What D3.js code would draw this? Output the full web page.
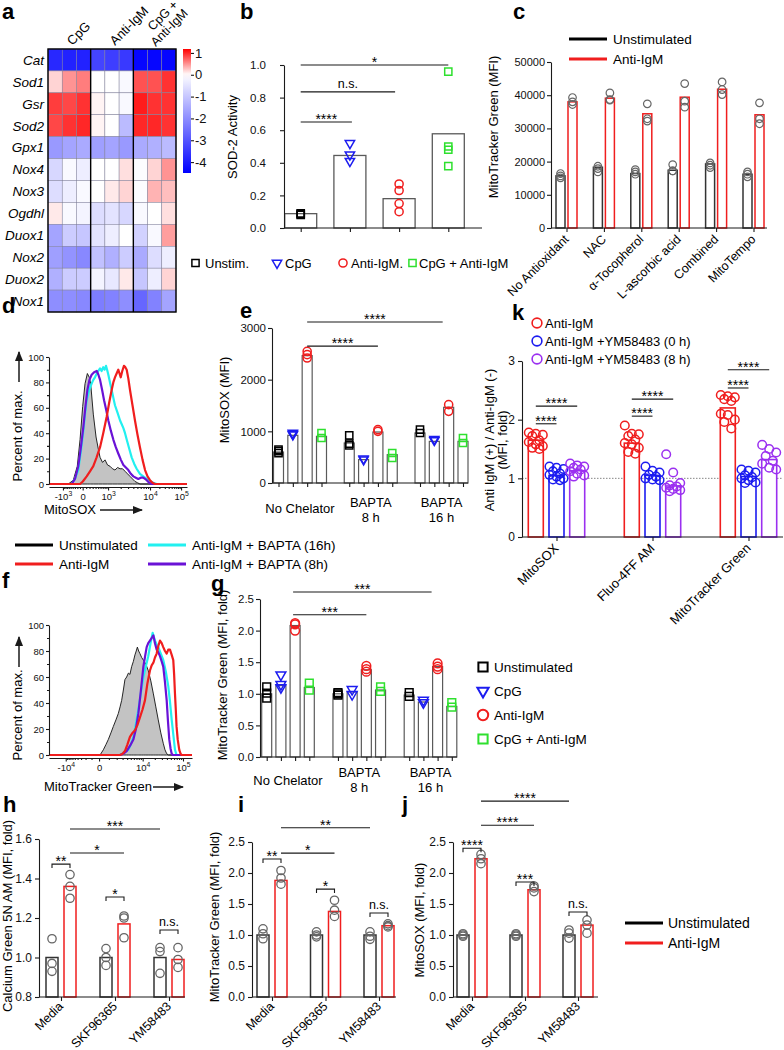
<!DOCTYPE html>
<html><head><meta charset="utf-8">
<script src="https://cdn.jsdelivr.net/npm/d3@7/dist/d3.min.js"></script>
<style>
html,body{margin:0;padding:0;background:#fff;}
svg{display:block;font-family:"Liberation Sans",Arial,Helvetica,sans-serif;}
</style></head><body>
<svg id="fig" width="784" height="1050"></svg>
<script>
// ================= DATA =================
// (a) heat map
const heatGenes = ["Cat","Sod1","Gsr","Sod2","Gpx1","Nox4","Nox3","Ogdhl","Duox1","Nox2","Duox2","Nox1"];
const heatGroups = ["CpG","Anti-IgM","CpG + Anti-IgM"];
const heatValues = [
 [-3.8,-3.9,-3.9,-3.3,-3.4,-3.5,-4.4,-4.4,-4.4],
 [0.2,0.5,0.6,0.0,0.0,-0.1,0.8,0.8,0.95],
 [0.9,0.85,0.95,0.05,0.0,-0.1,1.05,0.95,0.95],
 [0.85,0.95,1.0,0.05,0.0,-1.2,1.0,1.0,0.95],
 [-1.8,-1.6,-1.5,-1.7,-1.6,-1.8,-1.5,-1.4,-1.2],
 [-0.7,-0.1,-0.3,0.0,0.0,0.15,-0.05,0.2,0.5],
 [-0.6,-0.3,-0.1,0.0,0.1,0.2,-0.05,0.35,0.3],
 [0.1,-0.1,-0.2,-0.6,-0.5,-0.7,-0.1,0.0,0.15],
 [-1.6,-0.9,-1.0,-0.5,-0.3,0.0,-0.8,-0.1,0.45],
 [-1.7,-1.9,-2.1,-1.1,-1.4,-0.9,-1.5,-0.6,-0.3],
 [-1.4,-0.9,-0.9,-0.2,-0.4,0.1,-1.0,-0.3,0.2],
 [-2.0,-2.0,-2.1,-2.3,-2.2,-2.0,-2.7,-2.2,-1.6]
];
const heatTicks = [1,0,-1,-2,-3,-4];

// (b) SOD-2 activity
const sodGroups = ["Unstim.","CpG","Anti-IgM.","CpG + Anti-IgM"];
const sodMeans = [0.088,0.445,0.18,0.578];
const sodPoints = [[0.08,0.09,0.085],[0.52,0.45,0.41],[0.27,0.23,0.15,0.10],[0.96,0.50,0.48,0.38]];
const sodTicks = [0,0.2,0.4,0.6,0.8,1.0];

// (c) MitoTracker Green with antioxidants
const antioxCats = ["No Antioxidant","NAC","\u03b1-Tocopherol","L-ascorbic acid","Combined","MitoTempo"];
const mtgUnstimMean = [15700,18300,16400,17400,19300,16200];
const mtgAntiMean = [38000,39100,34400,39400,41800,34100];
const mtgUnstimPts = [[16400,15700,15100],[18600,17900,16900],[17600,16900,16200],[19100,17200,17200],[19600,18900,18200],[16900,16200,15400]];
const mtgAntiPts = [[39300,38000,37200],[40700,38700,38500],[37400,32900,32200],[43500,38200,36400],[44000,41700,40200],[37700,32900,31400]];
const mtgTicks = [0,10000,20000,30000,40000,50000];

// (d) MitoSOX histograms  [channel, % of max]
const dTickChannels = [101,244,428,732,957];
const dTickLabels = ["-10^3","0","10^3","10^4","10^5"];
const dUnstim = [[0,0],[140,0],[176,3],[205,14],[225,35],[244,61],[261,79],[278,87],[292,84],[302,79],[321,55],[341,37],[360,26],[370,21],[388,17],[406,19],[424,15],[442,14],[460,12],[478,11],[497,13],[515,12],[533,12],[551,10],[569,8],[587,6],[605,4],[623,2],[641,1],[659,0],[1000,0]];
const dAnti = [[0,0],[225,0],[245,2],[273,6],[297,10],[321,14],[345,21],[370,29],[393,40],[418,53],[436,64],[454,74],[466,80],[478,84],[490,87],[502,90],[511,87],[520,84],[531,89],[543,93],[553,92],[563,90],[575,83],[587,74],[605,62],[623,50],[641,39],[659,29],[678,19],[696,11],[714,6],[732,3],[750,1],[768,0],[1000,0]];
const dBapta16 = [[0,0],[164,0],[188,4],[212,11],[230,25],[249,42],[261,55],[273,66],[291,74],[309,79],[321,82],[333,84],[351,88],[370,91],[381,89],[393,92],[403,90],[413,93],[421,90],[430,86],[442,80],[454,74],[466,68],[478,62],[497,56],[515,50],[527,47],[539,44],[551,40],[563,35],[581,28],[599,21],[617,16],[635,12],[659,8],[683,6],[708,4],[732,2],[756,1],[780,0],[1000,0]];
const dBapta8 = [[0,0],[164,0],[188,4],[212,14],[230,28],[249,45],[263,60],[278,74],[293,82],[309,86],[327,88],[346,89],[358,86],[370,82],[385,74],[399,66],[415,58],[430,50],[448,42],[466,35],[484,29],[502,24],[521,19],[539,15],[557,13],[575,11],[593,8],[611,6],[629,5],[647,4],[665,5],[683,5],[696,4],[708,3],[726,1],[744,0],[1000,0]];

// (e) MitoSOX with BAPTA
const chelCats = ["No Chelator","BAPTA|8 h","BAPTA|16 h"];
const chelSeries = ["Unstimulated","CpG","Anti-IgM","CpG + Anti-IgM"];
const soxMeans = [[600,923,2465,903],[774,452,987,548],[968,806,1465,806]];
const soxPts = [
 [[645,615,580],[968,950,935],[2548,2484,2419],[968,871]],
 [[923,761,729],[470,452],[1032,1000],[581,484]],
 [[1032,968],[850,826],[1516,1387],[871,774]]];
const soxTicks = [0,1000,2000,3000];

// (f) MitoTracker Green histograms
const fTickChannels = [117,350,655,937];
const fTickLabels = ["-10^4","0","10^4","10^5"];
const fUnstim = [[0,0],[357,0],[380,4],[398,8],[415,12],[433,17],[450,22],[468,27],[485,32],[497,37],[508,42],[520,50],[531,58],[543,60],[555,63],[566,62],[578,68],[590,72],[601,77],[610,80],[618,83],[627,80],[636,78],[648,75],[660,73],[677,70],[694,65],[712,57],[730,47],[747,37],[764,27],[782,17],[799,9],[811,4],[823,1],[835,0],[1000,0]];
const fAnti = [[0,0],[497,0],[514,1],[531,3],[548,8],[566,14],[584,17],[601,19],[618,23],[636,29],[654,35],[671,42],[688,55],[706,65],[718,69],[730,71],[741,75],[753,78],[765,84],[776,88],[788,86],[799,83],[811,80],[823,78],[834,81],[846,81],[858,77],[869,73],[875,62],[881,47],[887,34],[892,22],[900,12],[911,4],[920,1],[927,0],[1000,0]];
const fBapta16 = [[0,0],[497,0],[526,2],[555,4],[572,8],[590,14],[608,24],[625,35],[643,48],[660,60],[677,68],[694,76],[710,86],[725,94],[733,91],[741,88],[753,85],[764,83],[782,78],[799,73],[817,64],[834,53],[846,41],[858,27],[870,15],[881,4],[892,0],[1000,0]];
const fBapta8 = [[0,0],[497,0],[520,1],[543,3],[566,7],[590,12],[608,20],[625,32],[643,50],[660,68],[672,76],[683,83],[694,86],[706,88],[718,90],[730,92],[741,86],[753,81],[765,79],[776,76],[788,72],[799,68],[811,56],[823,42],[832,26],[841,12],[850,5],[858,1],[866,0],[1000,0]];

// (g) MitoTracker Green fold with BAPTA
const mtgFoldMeans = [[1.0,1.13,2.08,1.10],[1.0,1.03,1.38,1.06],[0.98,0.87,1.43,0.80]];
const mtgFoldPts = [
 [[1.11,1.01,0.93],[1.30,1.15,1.10],[2.12,2.10,2.00],[1.17,1.06]],
 [[1.02,0.98,1.00],[1.07,0.99],[1.44,1.39,1.35],[1.11,1.04]],
 [[1.02,0.96],[0.90,0.86],[1.48,1.43,1.39],[0.86,0.79]]];
const foldTicks25 = [0,0.5,1.0,1.5,2.0,2.5];

// (h,i,j) inhibitors
const inhibCats = ["Media","SKF96365","YM58483"];
const cgUnstimMean = [1.0,1.0,1.0];
const cgAntiMean = [1.36,1.17,0.99];
const cgUnstimPts = [[1.095,0.97,0.93],[1.045,1.0,0.96],[1.05,1.03,0.92]];
const cgAntiPts = [[1.42,1.36,1.30],[1.21,1.20,1.10],[1.05,0.99,0.95]];
const cgTicks = [0.8,1.0,1.2,1.4,1.6];
const mtUnstimMean = [1.0,1.0,1.0];
const mtAntiMean = [1.88,1.38,1.15];
const mtUnstimPts = [[1.10,1.02,0.94],[1.05,1.0,0.97],[1.05,0.98,0.93]];
const mtAntiPts = [[2.04,1.92,1.82],[1.56,1.40,1.30],[1.18,1.15,1.13]];
const msUnstimMean = [1.0,1.0,1.0];
const msAntiMean = [2.23,1.73,1.16];
const msUnstimPts = [[1.02,1.0,0.98],[1.02,1.0,0.98],[1.08,1.03,0.95]];
const msAntiPts = [[2.30,2.23,2.15],[1.79,1.76,1.70],[1.24,1.16,1.03]];

// (k) YM58483
const kCats = ["MitoSOX","Fluo-4FF AM","MitoTracker Green"];
const kSeries = ["Anti-IgM","Anti-IgM +YM58483 (0 h)","Anti-IgM +YM58483 (8 h)"];
const kMeans = [[1.65,1.05,1.13],[1.60,1.05,0.87],[2.20,1.03,1.32]];
const kPts = [
 [[1.78,1.76,1.74,1.72,1.65,1.62,1.58,1.55,1.52,1.50],[1.20,1.18,1.16,1.12,1.08,1.06,1.03,1.00,0.98,0.97],[1.25,1.22,1.20,1.18,1.15,1.12,1.08,1.05,1.03]],
 [[1.90,1.76,1.75,1.72,1.66,1.60,1.58,1.52,1.45,1.42],[1.20,1.13,1.10,1.06,1.03,1.00,0.98,0.97],[1.41,1.10,0.92,0.88,0.86,0.84,0.82,0.80,0.78]],
 [[2.42,2.40,2.38,2.35,2.32,2.10,2.08,2.00,1.96,1.85],[1.15,1.13,1.10,1.05,1.02,1.00,0.97,0.93,0.92],[1.57,1.50,1.44,1.38,1.30,1.25,1.18,1.15]]];
const kTicks = [0,1,2,3];

// ================= STYLE HELPERS =================
const svg = d3.select("#fig");
const INK = "#1a1a1a";
const RED = "#f01e1e", BLUE = "#1c1cf0", GREEN = "#2ee02e", PURPLE = "#9b30f0", CYAN = "#22f0f0", DPURPLE = "#6a12d6", GREY = "#666";
const fmt1 = d3.format(".1f");
const defs = svg.append("defs");
defs.append("marker").attr("id","arrow").attr("viewBox","0 0 10 10").attr("refX",9).attr("refY",5)
  .attr("markerWidth",7).attr("markerHeight",7).attr("orient","auto-start-reverse")
  .append("path").attr("d","M0,1L10,5L0,9Z").attr("fill",INK);

function panelLabel(t,x,y){svg.append("text").attr("x",x).attr("y",y).attr("font-size",22).attr("font-weight","bold").text(t);}
function styleAx(a, fs){
  a.attr("font-family",null).attr("font-size",fs);
  a.selectAll("path,line").attr("stroke",INK).attr("stroke-width",1.1);
  a.selectAll("text").attr("fill","#111");
  return a;
}
function leftAxis(g, x, scale, ticks, f, fs, pad, size){
  return styleAx(g.append("g").attr("transform",`translate(${x},0)`)
    .call(d3.axisLeft(scale).tickValues(ticks).tickFormat(f).tickSize(size||4).tickSizeOuter(0).tickPadding(pad==null?3:pad)), fs);
}
function bottomTicks(g, y, xs, x1, x2){
  const a = g.append("g").attr("transform",`translate(0,${y})`)
    .call(d3.axisBottom(d3.scaleIdentity()).tickValues(xs).tickFormat("").tickSize(4).tickSizeOuter(0));
  a.select(".domain").attr("d",`M${x1},0H${x2}`);
  return styleAx(a, 11);
}
function yTitle(g, txt, x, y, fs){
  g.append("text").attr("transform",`translate(${x},${y}) rotate(-90)`).attr("text-anchor","middle").attr("font-size",fs||13).text(txt);
}
function rotLabels(g, xs, cats, y, fs){
  cats.forEach((c,i)=> g.append("text").attr("transform",`translate(${xs[i]+3},${y}) rotate(-45)`)
    .attr("text-anchor","end").attr("font-size",fs||12.5).text(c));
}
function mark(g, type, x, y, color, size, sw){
  const s = type==="square"? d3.symbolSquare : type==="tri"? d3.symbolTriangle : d3.symbolCircle;
  g.append("path").attr("d", d3.symbol(s, size)())
   .attr("transform",`translate(${x},${y})${type==="tri"?" rotate(180)":""}`)
   .attr("fill","none").attr("stroke",color).attr("stroke-width",sw||1.5);
}
function sig(g, x1, x2, y, txt, bracket){
  if (bracket) g.append("path").attr("d",`M${x1},${y+4}V${y}H${x2}V${y+4}`).attr("fill","none").attr("stroke",INK).attr("stroke-width",1.1);
  else g.append("line").attr("x1",x1).attr("x2",x2).attr("y1",y).attr("y2",y).attr("stroke",INK).attr("stroke-width",1.1);
  const star = txt.includes("*");
  g.append("text").attr("x",(x1+x2)/2).attr("y", star? y+2 : y-4).attr("text-anchor","middle")
   .attr("font-size", star?14:12.5).text(txt);
}
function bar(g, x, w, y0, y1, color, sw){
  g.append("rect").attr("x",x-w/2).attr("y",Math.min(y0,y1)).attr("width",w).attr("height",Math.abs(y0-y1))
   .attr("fill","#fff").attr("stroke",color).attr("stroke-width",sw||1.3);
}
function supLabel(sel, s){
  const parts = s.split("^");
  sel.text(null);
  sel.append("tspan").text(parts[0]);
  if (parts[1]) sel.append("tspan").attr("dy","-0.55em").attr("font-size","0.72em").text(parts[1]);
}

// ================= (a) =================
panelLabel("a",2,19);
const gA = svg.append("g");
const aX = d3.scaleBand().domain(d3.range(9)).range([48,176]);
const aY = d3.scaleBand().domain(heatGenes).range([49,312]);
const aCol = d3.scaleLinear().domain([-4.5,0,1.18]).range(["#0000ff","#ffffff","#ff0000"]).clamp(true);
heatValues.forEach((row,i)=>row.forEach((v,j)=>{
  gA.append("rect").attr("x",aX(j)).attr("y",aY(heatGenes[i])).attr("width",aX.bandwidth()).attr("height",aY.bandwidth())
    .attr("fill",aCol(v)).attr("stroke","#80809a").attr("stroke-width",0.5);
}));
[3,6].forEach(j=>gA.append("line").attr("x1",aX(j)).attr("x2",aX(j)).attr("y1",49).attr("y2",312).attr("stroke","#000").attr("stroke-width",1.4));
gA.append("rect").attr("x",48).attr("y",49).attr("width",128).attr("height",263).attr("fill","none").attr("stroke","#000").attr("stroke-width",1.4);
heatGenes.forEach(gn=>gA.append("text").attr("x",44).attr("y",aY(gn)+aY.bandwidth()/2).attr("dy","0.36em")
  .attr("text-anchor","end").attr("font-style","italic").attr("font-size",13.5).text(gn));
heatGroups.forEach((grp,k)=>{
  const cx = aX(k*3) + aX.bandwidth()*1.5;
  const two = grp.includes(" + ");
  const t = gA.append("text").attr("transform",`translate(${two?cx+1:cx+3},${two?47:46}) rotate(-45)`).attr("font-size",two?12.5:13);
  if (two) {
    const parts = grp.split(" + ");
    t.append("tspan").attr("x",9).attr("dy","-1.05em").text(parts[0]+" +");
    t.append("tspan").attr("x",0).attr("dy","1.05em").text(parts[1]);
  } else t.text(grp);
});
const cbY = d3.scaleLinear().domain([1.18,-4.5]).range([49,173]);
const grad = defs.append("linearGradient").attr("id","cbgrad").attr("x1",0).attr("x2",0).attr("y1",0).attr("y2",1);
d3.range(0,1.0001,0.05).forEach(t=>grad.append("stop").attr("offset",t).attr("stop-color",aCol(cbY.invert(49+t*124))));
gA.append("rect").attr("x",183).attr("y",49).attr("width",8).attr("height",124).attr("fill","url(#cbgrad)");
const cbAx = gA.append("g").attr("transform","translate(191,0)")
  .call(d3.axisRight(cbY).tickValues(heatTicks).tickFormat(d=>String(d)).tickSize(3).tickSizeOuter(0).tickPadding(1));
styleAx(cbAx,13); cbAx.select(".domain").remove();

// ================= (b) =================
panelLabel("b",240,19);
const gB = svg.append("g");
const bX = d3.scalePoint().domain(sodGroups).range([300.7,448.3]);
const bY = d3.scaleLinear().domain([0,1]).range([228,65]);
const sodMark = ["square","tri","circle","square"], sodCol = ["#000",BLUE,RED,GREEN];
sodMeans.forEach((m,i)=>bar(gB,bX(sodGroups[i]),32,bY(0),bY(m),"#5a5a5a",1.3));
sodPoints.forEach((pts,i)=>pts.forEach(v=>mark(gB,sodMark[i],bX(sodGroups[i]),bY(v),sodCol[i],sodMark[i]==="tri"?38:52)));
leftAxis(gB,284,bY,sodTicks,fmt1,11.5,14);
bottomTicks(gB,228,sodGroups.map(g=>bX(g)),284,482);
yTitle(gB,"SOD-2 Activity",237,137);
sig(gB,bX(sodGroups[0]),bX(sodGroups[3]),bY(1.0),"*");
sig(gB,bX(sodGroups[0]),bX(sodGroups[2])-4,bY(0.835),"n.s.");
sig(gB,bX(sodGroups[0]),bX(sodGroups[1])+2,bY(0.65),"****");
[[195.5,205],[277,285],[343,351],[412.5,419]].forEach((p,i)=>{
  mark(gB,sodMark[i],p[0],263,sodCol[i],sodMark[i]==="tri"?38:52);
  gB.append("text").attr("x",p[1]).attr("y",263).attr("dy","0.36em").attr("font-size",13).text(sodGroups[i]);
});

// ================= (c) =================
panelLabel("c",513,19);
const gC = svg.append("g");
const cX = d3.scalePoint().domain(antioxCats).range([566.5,753.5]);
const cY = d3.scaleLinear().domain([0,50000]).range([228,62]);
antioxCats.forEach((c,i)=>{
  bar(gC,cX(c)-6,9,cY(0),cY(mtgUnstimMean[i]),"#333",1.5);
  bar(gC,cX(c)+6,9,cY(0),cY(mtgAntiMean[i]),RED,1.5);
  mtgUnstimPts[i].forEach(v=>mark(gC,"circle",cX(c)-6,cY(v),GREY,45,1.2));
  mtgAntiPts[i].forEach(v=>mark(gC,"circle",cX(c)+6,cY(v),GREY,45,1.2));
});
leftAxis(gC,551,cY,mtgTicks,d3.format("d"),11,2);
bottomTicks(gC,228,antioxCats.map(c=>cX(c)),551,767);
rotLabels(gC,antioxCats.map(c=>cX(c)),antioxCats,240,12.5);
yTitle(gC,"MitoTracker Green (MFI)",498,127);
[["Unstimulated","#000",39],["Anti-IgM",RED,59]].forEach(l=>{
  gC.append("line").attr("x1",569).attr("x2",607).attr("y1",l[2]).attr("y2",l[2]).attr("stroke",l[1]).attr("stroke-width",3);
  gC.append("text").attr("x",613).attr("y",l[2]).attr("dy","0.36em").attr("font-size",13.5).text(l[0]);
});

// ================= histogram helper (d,f) =================
function histPanel(g, X, Y, axisY, tickCh, tickLab, minorCh, series, xTitle, xTitleY, arrowX1, arrowX2, yT, arrowY1, arrowY2){
  const area = d3.area().x(d=>X(d[0])).y0(Y(0)).y1(d=>Y(d[1]));
  const line = d3.line().x(d=>X(d[0])).y(d=>Y(d[1]));
  g.append("path").attr("d",area(series[0])).attr("fill","#c3c3c3").attr("stroke","#111").attr("stroke-width",0.9);
  [[series[1],CYAN],[series[2],DPURPLE],[series[3],RED]].forEach(s=>
    g.append("path").attr("d",line(s[0])).attr("fill","none").attr("stroke",s[1]).attr("stroke-width",2.2).attr("stroke-linejoin","round"));
  leftAxis(g,X.range()[0],Y,[0,20,40,60,80,100],d3.format("d"),9.5,2,3);
  const mn = g.append("g").attr("transform",`translate(${X.range()[0]},0)`)
    .call(d3.axisLeft(Y).tickValues([10,30,50,70,90]).tickFormat("").tickSize(2).tickSizeOuter(0));
  styleAx(mn,9); mn.select(".domain").remove();
  const mx = g.append("g").attr("transform",`translate(0,${axisY})`)
    .call(d3.axisBottom(X).tickValues(minorCh).tickFormat("").tickSize(2).tickSizeOuter(0));
  styleAx(mx,9); mx.select(".domain").remove();
  const xa = g.append("g").attr("transform",`translate(0,${axisY})`)
    .call(d3.axisBottom(X).tickValues(tickCh).tickFormat((d,i)=>tickLab[i]).tickSize(3.5).tickSizeOuter(0).tickPadding(3));
  styleAx(xa,9.5);
  xa.selectAll(".tick text").each(function(d,i){supLabel(d3.select(this),tickLab[i]);});
  g.append("text").attr("transform",`translate(22,${yT}) rotate(-90)`).attr("text-anchor","middle").attr("font-size",13).text("Percent of max.");
  g.append("line").attr("x1",19).attr("x2",19).attr("y1",arrowY1).attr("y2",arrowY2).attr("stroke",INK).attr("stroke-width",1.5).attr("marker-end","url(#arrow)");
  g.append("text").attr("x",44).attr("y",xTitleY).attr("font-size",13).text(xTitle);
  g.append("line").attr("x1",arrowX1).attr("x2",arrowX2).attr("y1",xTitleY-4).attr("y2",xTitleY-4).attr("stroke",INK).attr("stroke-width",1.5).attr("marker-end","url(#arrow)");
}
// minor tick positions (layout only): linear steps near zero, log steps in upper decades
function minorTicks(ch, lin, W){
  const out = [];
  const zero = ch[1];
  for (let m=1;m<=9;m++){
    const f = Math.asinh(m*lin/10/W)/Math.asinh(lin/W);
    out.push(zero + f*(ch[2]-zero));
    out.push(zero - f*(zero-ch[0]));
  }
  for (let k=2;k<ch.length;k++){
    if (k+1<ch.length) for (let m=2;m<=9;m++) out.push(ch[k]+Math.log10(m)*(ch[k+1]-ch[k]));
  }
  return out;
}

// ================= (d) =================
panelLabel("d",2,313);
const gD = svg.append("g");
const dX = d3.scaleLinear().domain([0,1000]).range([49,187]);
const dY = d3.scaleLinear().domain([0,100]).range([484,357]);
histPanel(gD,dX,dY,487,dTickChannels,dTickLabels,minorTicks(dTickChannels,1000,500),[dUnstim,dBapta16,dBapta8,dAnti],"MitoSOX",514,100,142,436,382,352);
[["Unstimulated","#000",15,545],["Anti-IgM",RED,15,564],["Anti-IgM + BAPTA (16h)",CYAN,148,545],["Anti-IgM + BAPTA (8h)",DPURPLE,148,564]].forEach(l=>{
  gD.append("line").attr("x1",l[2]).attr("x2",l[2]+38).attr("y1",l[3]).attr("y2",l[3]).attr("stroke",l[1]).attr("stroke-width",3);
  gD.append("text").attr("x",l[2]+44).attr("y",l[3]).attr("dy","0.36em").attr("font-size",13.5).text(l[0]);
});

// ================= (f) =================
panelLabel("f",2,588);
const gF = svg.append("g");
const fX = d3.scaleLinear().domain([0,1000]).range([49,192]);
const fY = d3.scaleLinear().domain([0,100]).range([755,625]);
histPanel(gF,fX,fY,758,fTickChannels,fTickLabels,minorTicks(fTickChannels,10000,1700),[fUnstim,fBapta16,fBapta8,fAnti],"MitoTracker Green",791,153,183,715,667,637);

// ================= grouped bar helper (e,g) =================
const seriesMark = ["square","tri","circle","square"], seriesCol = ["#000",BLUE,RED,GREEN];
function groupedPanel(g, X, IN, Y, means, pts, msize){
  const centers = [];
  chelCats.forEach((c,gi)=>chelSeries.forEach((s,si)=>{
    const x = X(c)+IN(s); centers.push(x);
    bar(g,x,10,Y(0),Y(means[gi][si]),"#5a5a5a",1.2);
  }));
  chelCats.forEach((c,gi)=>chelSeries.forEach((s,si)=>{
    (pts[gi][si]||[]).forEach(v=>mark(g,seriesMark[si],X(c)+IN(s),Y(v),seriesCol[si],seriesMark[si]==="tri"?msize*0.7:msize));
  }));
  return centers;
}
function groupLabels(g, X, axisY, off1, off2, offSingle){
  chelCats.forEach(c=>{
    const parts = c.split("|");
    if (parts.length===1) g.append("text").attr("x",X(c)).attr("y",axisY+offSingle).attr("text-anchor","middle").attr("font-size",13).text(parts[0]);
    else {
      g.append("text").attr("x",X(c)).attr("y",axisY+off1).attr("text-anchor","middle").attr("font-size",13).text(parts[0]);
      g.append("text").attr("x",X(c)).attr("y",axisY+off2).attr("text-anchor","middle").attr("font-size",13).text(parts[1]);
    }
  });
}

// ================= (e) =================
panelLabel("e",240,318);
const gE = svg.append("g");
const eX = d3.scalePoint().domain(chelCats).range([300,441.5]);
const eIn = d3.scalePoint().domain(chelSeries).range([-21.5,21.5]);
const eY = d3.scaleLinear().domain([0,3000]).range([483,328]);
const eC = groupedPanel(gE,eX,eIn,eY,soxMeans,soxPts,52);
leftAxis(gE,272,eY,soxTicks,d3.format("d"),11.5,2);
bottomTicks(gE,483,eC,272,468);
groupLabels(gE,eX,483,24,39,30);
yTitle(gE,"MitoSOX (MFI)",229,400);
sig(gE,eX(chelCats[0])+eIn("Anti-IgM"),eX(chelCats[1])+eIn("Anti-IgM"),eY(2650),"****");
sig(gE,eX(chelCats[0])+eIn("Anti-IgM"),eX(chelCats[2])+eIn("Anti-IgM")-6,eY(3115),"****");

// ================= (g) =================
panelLabel("g",211,591);
const gG = svg.append("g");
const gX = d3.scalePoint().domain(chelCats).range([288,430.5]);
const gIn = d3.scalePoint().domain(chelSeries).range([-21.3,21.3]);
const gY = d3.scaleLinear().domain([0,2.5]).range([757,599]);
const gCn = groupedPanel(gG,gX,gIn,gY,mtgFoldMeans,mtgFoldPts,60);
leftAxis(gG,260,gY,foldTicks25,fmt1,11.5,2);
bottomTicks(gG,757,gCn,260,457);
groupLabels(gG,gX,757,20,35,28);
yTitle(gG,"MitoTracker Green (MFI, fold)",227,675);
sig(gG,gX(chelCats[0])+gIn("Anti-IgM")-2,gX(chelCats[1])+gIn("Anti-IgM"),gY(2.25),"***");
sig(gG,gX(chelCats[0])+gIn("Anti-IgM")-2,gX(chelCats[2])+gIn("Anti-IgM")-6,gY(2.61),"***");
["Unstimulated","CpG","Anti-IgM","CpG + Anti-IgM"].forEach((t,i)=>{
  const y = [667,691,715,739][i];
  mark(gG,seriesMark[i],483,y,seriesCol[i],seriesMark[i]==="tri"?55:85,2);
  gG.append("text").attr("x",494).attr("y",y).attr("dy","0.36em").attr("font-size",13.5).text(t);
});

// ================= (h,i,j) =================
function inhibPanel(g, axisX, axisEnd, X, Y, ticks, uMean, aMean, uPts, aPts, title, tx, ty){
  const off = 9, w = 12;
  inhibCats.forEach((c,i)=>{
    bar(g,X(c)-off,w,Y.range()[0],Y(uMean[i]),"#333",1.5);
    bar(g,X(c)+off,w,Y.range()[0],Y(aMean[i]),RED,1.5);
    uPts[i].forEach(v=>mark(g,"circle",X(c)-off,Y(v),GREY,55,1.3));
    aPts[i].forEach(v=>mark(g,"circle",X(c)+off,Y(v),GREY,55,1.3));
  });
  leftAxis(g,axisX,Y,ticks,fmt1,12,3);
  bottomTicks(g,Y.range()[0],inhibCats.map(c=>X(c)),axisX,axisEnd);
  rotLabels(g,inhibCats.map(c=>X(c)),inhibCats,Y.range()[0]+10,12.5);
  yTitle(g,title,tx,ty);
}
panelLabel("h",3,812);
const gH = svg.append("g");
const hX = d3.scalePoint().domain(inhibCats).range([61,169]);
const hY = d3.scaleLinear().domain([0.8,1.6]).range([997,839]);
inhibPanel(gH,39,185,hX,hY,cgTicks,cgUnstimMean,cgAntiMean,cgUnstimPts,cgAntiPts,"Calcium Green 5N AM (MFI, fold)",12,916);
sig(gH,hX("Media")-9,hX("Media")+9,hY(1.473),"**",true);
sig(gH,hX("Media")+9,hX("SKF96365")+9,hY(1.529),"*");
sig(gH,hX("Media")+9,hX("YM58483")-9,hY(1.651),"***");
sig(gH,hX("SKF96365")-9,hX("SKF96365")+9,hY(1.306),"*",true);
sig(gH,hX("YM58483")-9,hX("YM58483")+9,hY(1.139),"n.s.",true);

panelLabel("i",238,812);
const gI = svg.append("g");
const iX = d3.scalePoint().domain(inhibCats).range([272,379]);
const iY = d3.scaleLinear().domain([0,2.5]).range([997,842]);
inhibPanel(gI,252,396,iX,iY,foldTicks25,mtUnstimMean,mtAntiMean,mtUnstimPts,mtAntiPts,"MitoTracker Green (MFI, fold)",219,917);
sig(gI,iX("Media")-9,iX("Media")+9,iY(2.226),"**",true);
sig(gI,iX("Media")+9,iX("SKF96365")+9,iY(2.32),"*");
sig(gI,iX("Media")+9,iX("YM58483")-9,iY(2.73),"**");
sig(gI,iX("SKF96365")-9,iX("SKF96365")+9,iY(1.74),"*",true);
sig(gI,iX("YM58483")-9,iX("YM58483")+9,iY(1.355),"n.s.",true);

panelLabel("j",402,812);
const gJ = svg.append("g");
const jX = d3.scalePoint().domain(inhibCats).range([472,578]);
const jY = d3.scaleLinear().domain([0,2.5]).range([997,842]);
inhibPanel(gJ,453,598,jX,jY,foldTicks25,msUnstimMean,msAntiMean,msUnstimPts,msAntiPts,"MitoSOX (MFI, fold)",424,920);
sig(gJ,jX("Media")-9,jX("Media")+9,jY(2.40),"****",true);
sig(gJ,jX("Media")+9,jX("SKF96365")+9,jY(2.77),"****");
sig(gJ,jX("Media")+9,jX("YM58483")-9,jY(3.16),"****");
sig(gJ,jX("SKF96365")-9,jX("SKF96365")+9,jY(1.855),"***",true);
sig(gJ,jX("YM58483")-9,jX("YM58483")+9,jY(1.37),"n.s.",true);
[["Unstimulated","#000",923],["Anti-IgM",RED,943]].forEach(l=>{
  gJ.append("line").attr("x1",625).attr("x2",663).attr("y1",l[2]).attr("y2",l[2]).attr("stroke",l[1]).attr("stroke-width",3);
  gJ.append("text").attr("x",668).attr("y",l[2]).attr("dy","0.36em").attr("font-size",14).text(l[0]);
});

// ================= (k) =================
panelLabel("k",512,320);
const gK = svg.append("g");
const kX = d3.scalePoint().domain(kCats).range([556.5,748.5]);
const kIn = d3.scalePoint().domain(kSeries).range([-20.7,20.7]);
const kY = d3.scaleLinear().domain([0,3]).range([537,361]);
const kCol = [RED,BLUE,PURPLE];
const swarm = [-7,0,7,-3.5,3.5,-7,0,7,-3.5,3.5];
gK.append("line").attr("x1",522).attr("x2",783).attr("y1",kY(1)).attr("y2",kY(1)).attr("stroke","#777").attr("stroke-width",0.9).attr("stroke-dasharray","1.5,1.5");
kCats.forEach((c,gi)=>kSeries.forEach((s,si)=>{
  const x = kX(c)+kIn(s);
  bar(gK,x,15,kY(0),kY(kMeans[gi][si]),kCol[si],1.6);
}));
kCats.forEach((c,gi)=>kSeries.forEach((s,si)=>{
  const x = kX(c)+kIn(s);
  kPts[gi][si].forEach((v,pi)=>mark(gK,"circle",x+swarm[pi%swarm.length],kY(v),kCol[si],58,1.5));
}));
leftAxis(gK,522,kY,kTicks,d3.format("d"),12,3);
bottomTicks(gK,537,kCats.map(c=>kX(c)),522,783);
rotLabels(gK,kCats.map(c=>kX(c)),kCats,549,13);
gK.append("text").attr("transform","translate(494,440) rotate(-90)").attr("text-anchor","middle").attr("font-size",13).text("Anti IgM (+) / Anti-IgM (-)");
gK.append("text").attr("transform","translate(507,440) rotate(-90)").attr("text-anchor","middle").attr("font-size",13).text("(MFI, fold)");
kCats.forEach((c,gi)=>{
  const lo = [1.93,2.06,2.54][gi], hi = [2.23,2.35,2.85][gi];
  sig(gK,kX(c)+kIn(kSeries[0]),kX(c)+kIn(kSeries[1]),kY(lo),"****");
  sig(gK,kX(c)+kIn(kSeries[0]),kX(c)+kIn(kSeries[2]),kY(hi),"****");
});
kSeries.forEach((s,i)=>{
  const y = [323,341,359][i];
  mark(gK,"circle",537,y,kCol[i],75,1.6);
  gK.append("text").attr("x",545).attr("y",y).attr("dy","0.36em").attr("font-size",13).text(s);
});
</script>
</body></html>
